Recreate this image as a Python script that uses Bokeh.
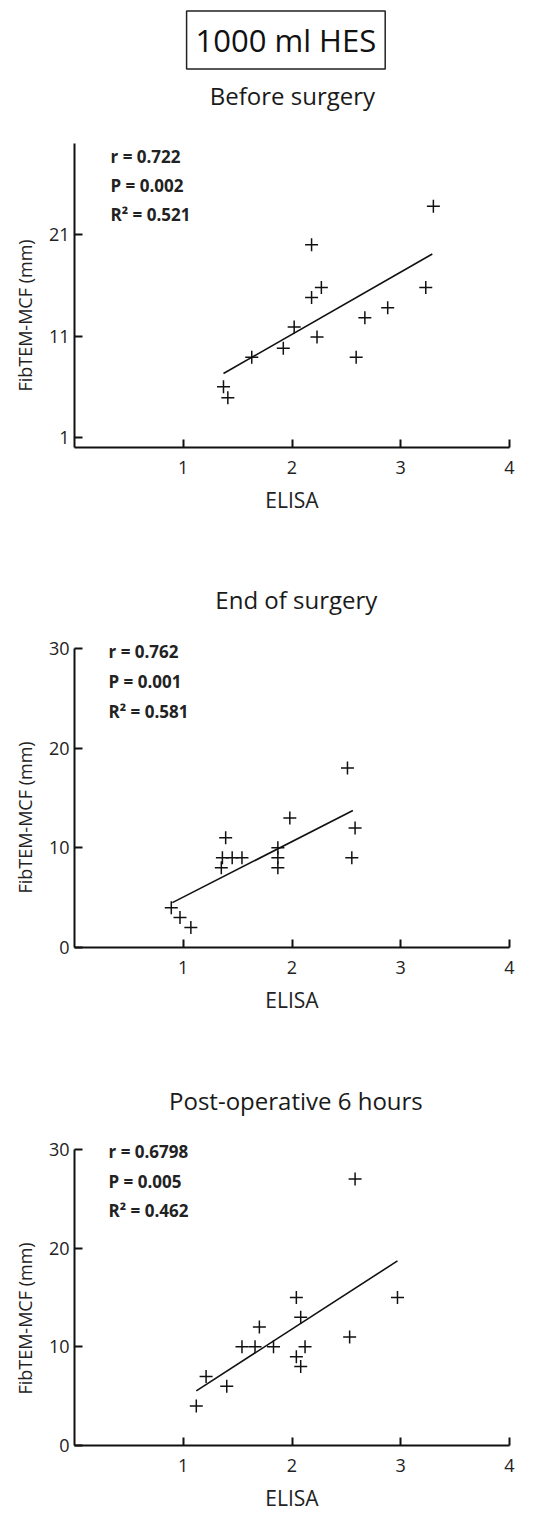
from bokeh.plotting import figure
from bokeh.models import Label, FixedTicker, Range1d
from bokeh.layouts import column, row
from bokeh.embed import file_html
from bokeh.resources import INLINE

FONT = "Open Sans"

main_title = "1000 ml HES"
panel_titles = ["Before surgery", "End of surgery", "Post-operative 6 hours"]
x_label = "ELISA"
y_label = "FibTEM-MCF (mm)"

x_ticks = [1, 2, 3, 4]
y_ticks_before = [1, 11, 21]
y_ticks_later = [0, 10, 20, 30]

# Before surgery
before_x = [1.37, 1.41, 1.63, 1.92, 2.02, 2.23, 2.18, 2.27, 2.18, 2.59, 2.67, 2.88, 3.23, 3.30]
before_y = [6.0, 4.9, 8.9, 9.8, 11.9, 10.9, 14.8, 15.8, 20.0, 8.9, 12.8, 13.8, 15.8, 23.8]
before_fit_x = [1.37, 3.29]
before_fit_y = [7.3, 19.1]
before_stats = ["r = 0.722", "P = 0.002", "R\u00b2 = 0.521"]

# End of surgery
end_x = [0.89, 0.97, 1.07, 1.35, 1.36, 1.39, 1.45, 1.54, 1.87, 1.87, 1.87, 1.98, 2.51, 2.55, 2.58]
end_y = [4, 3, 2, 8, 9, 11, 9, 9, 8, 9, 10, 13, 18, 9, 12]
end_fit_x = [0.90, 2.56]
end_fit_y = [4.5, 13.74]
end_stats = ["r = 0.762", "P = 0.001", "R\u00b2 = 0.581"]

# Post-operative 6 hours
post_x = [1.12, 1.21, 1.40, 1.54, 1.66, 1.70, 1.83, 2.04, 2.04, 2.08, 2.08, 2.12, 2.53, 2.58, 2.97]
post_y = [4, 7, 6, 10, 10, 12, 10, 15, 9, 13, 8, 10, 11, 27, 15]
post_fit_x = [1.12, 2.97]
post_fit_y = [5.53, 18.7]
post_stats = ["r = 0.6798", "P = 0.005", "R\u00b2 = 0.462"]

INK = "#111111"
TXT = "#222222"
STRIP_W = 40
COL_W = 499


def drop_title(f):
    try:
        f.title = None
    except Exception:
        f.title.text = ""
        f.title.standoff = 0
        f.title.text_font_size = "0px"


def style_plain(f):
    drop_title(f)
    f.outline_line_color = None
    f.grid.visible = False
    f.background_fill_color = "white"
    f.border_fill_color = "white"


def blank_fig(width, height):
    """A figure whose frame is the whole canvas, used to hold free text."""
    f = figure(width=width, height=height, output_backend="svg", toolbar_location=None,
               x_range=Range1d(0, width), y_range=Range1d(height, 0),
               x_axis_location=None, y_axis_location=None,
               min_border=0, min_border_left=0, min_border_right=0,
               min_border_top=0, min_border_bottom=0)
    style_plain(f)
    return f


def title_fig(height, title, tx, ty):
    f = blank_fig(COL_W, height)
    f.add_layout(Label(x=tx, y=ty, text=title, text_align="center",
                       text_baseline="alphabetic", text_font=FONT,
                       text_font_size="24px", text_color="#1a1a1a"))
    return f


def ylabel_fig(height, b_top, b_bottom):
    """Narrow strip carrying the y-axis title, centred on its own frame."""
    f = figure(width=STRIP_W, height=height, output_backend="svg", toolbar_location=None,
               x_range=Range1d(0, 1), y_range=Range1d(0, 1), x_axis_location=None,
               min_border_left=STRIP_W - 1, min_border_right=0,
               min_border_top=b_top, min_border_bottom=b_bottom)
    style_plain(f)
    ax = f.yaxis[0]
    ax.ticker = FixedTicker(ticks=[])
    ax.axis_line_color = None
    ax.major_tick_line_color = None
    ax.minor_tick_line_color = None
    ax.major_tick_in = 0
    ax.major_tick_out = 0
    ax.major_label_standoff = 0
    ax.axis_label = y_label
    ax.axis_label_text_font = FONT
    ax.axis_label_text_font_size = "18px"
    ax.axis_label_text_font_style = "normal"
    ax.axis_label_text_color = TXT
    ax.axis_label_standoff = 3
    return f


def make_panel(xs, ys, fx, fy, stats, yticks, height, b_left, b_top,
               frame_w, frame_h, stats_x, stats_y, y_top):
    b_right = COL_W - b_left - frame_w
    b_bottom = height - b_top - frame_h
    p = figure(width=COL_W, height=height, output_backend="svg", toolbar_location=None,
               x_range=Range1d(0, 4), y_range=Range1d(0, y_top),
               min_border_left=b_left, min_border_right=b_right,
               min_border_top=b_top, min_border_bottom=b_bottom)
    style_plain(p)

    for ax, ticks in ((p.xaxis[0], x_ticks), (p.yaxis[0], yticks)):
        ax.ticker = FixedTicker(ticks=ticks)
        ax.minor_tick_line_color = None
        ax.major_tick_in = 8
        ax.major_tick_out = 0
        ax.axis_line_width = 2
        ax.major_tick_line_width = 2
        ax.axis_line_color = INK
        ax.major_tick_line_color = INK
        ax.major_label_text_font = FONT
        ax.major_label_text_font_size = "18px"
        ax.major_label_text_color = TXT
    p.xaxis.major_label_standoff = 13
    p.yaxis.major_label_standoff = 5
    p.yaxis.bounds = (0, 30)

    p.xaxis.axis_label = x_label
    p.xaxis.axis_label_text_font = FONT
    p.xaxis.axis_label_text_font_size = "21px"
    p.xaxis.axis_label_text_font_style = "normal"
    p.xaxis.axis_label_text_color = TXT
    p.xaxis.axis_label_standoff = 9

    p.line(fx, fy, line_color=INK, line_width=1.6)
    p.scatter(xs, ys, marker="cross", size=13, line_color=INK, line_width=1.5)

    for s, sy in zip(stats, stats_y):
        p.add_layout(Label(x=stats_x, y=sy, x_units="screen", y_units="screen",
                           text=s, text_align="left", text_baseline="alphabetic",
                           text_font=FONT, text_font_size="17px", text_font_style="bold",
                           text_color=TXT))
    return p


# left strip: three y-axis titles
s1 = ylabel_fig(528, b_top=215, b_bottom=113)
s2 = ylabel_fig(500, b_top=189, b_bottom=111)
s3 = ylabel_fig(486, b_top=190, b_bottom=96)

# header with boxed main title and first panel title
t1 = title_fig(135, panel_titles[0], 250, 95)
t1.add_layout(Label(x=242.5, y=39.5, text=main_title, text_align="center",
                    text_baseline="alphabetic", text_font=FONT, text_font_size="31px",
                    text_color="#111111", border_line_color="#222222",
                    border_line_width=1.5, padding=(9, 8)))

p1 = make_panel(before_x, before_y, before_fit_x, before_fit_y, before_stats,
                y_ticks_before, height=393, b_left=32, b_top=8, frame_w=437, frame_h=304,
                stats_x=36, stats_y=[291.5, 262.5, 233], y_top=30)

t2 = title_fig(93, panel_titles[1], 254.5, 70.5)
p2 = make_panel(end_x, end_y, end_fit_x, end_fit_y, end_stats,
                y_ticks_later, height=407, b_left=34, b_top=12, frame_w=442, frame_h=314,
                stats_x=34, stats_y=[296, 266, 236], y_top=31.5)

t3 = title_fig(94, panel_titles[2], 254, 72)
p3 = make_panel(post_x, post_y, post_fit_x, post_fit_y, post_stats,
                y_ticks_later, height=392, b_left=34, b_top=12, frame_w=442, frame_h=315,
                stats_x=34, stats_y=[294.5, 264.5, 235.5], y_top=31.5)

layout = row(column(s1, s2, s3, spacing=0),
             column(t1, p1, t2, p2, t3, p3, spacing=0), spacing=0)
open("out.html", "w").write(file_html(layout, INLINE))
